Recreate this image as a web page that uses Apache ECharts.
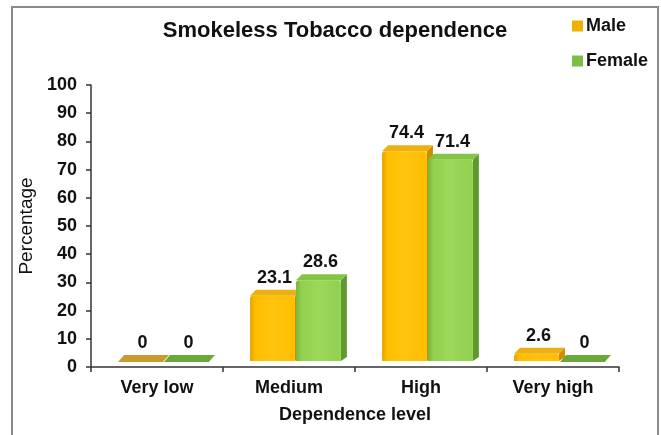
<!DOCTYPE html>
<html>
<head>
<meta charset="utf-8">
<script src="https://cdn.jsdelivr.net/npm/echarts@6/dist/echarts.min.js"></script>
<style>html,body{margin:0;padding:0;background:#fff;}#c{width:661px;height:435px;}</style>
</head>
<body>
<div id="c"></div>
<script>
const categories = ['Very low', 'Medium', 'High', 'Very high'];
const maleValues = [0, 23.1, 74.4, 2.6];
const femaleValues = [0, 28.6, 71.4, 0];
const yTicks = [0, 10, 20, 30, 40, 50, 60, 70, 80, 90, 100];

const FONT = '"Liberation Sans", Arial, sans-serif';

const palettes = {
  male: { light: '#FFC40F', mid: '#FFBE00', dark: '#E3A300', side: '#C98F00', top: '#EDB010', flat: '#C99A2E' },
  female: { light: '#9CD85A', mid: '#92D050', dark: '#78B53C', side: '#5E9A2E', top: '#86C446', flat: '#6AA838' }
};

function makeRender(isFemale, pal) {
  return function (params, api) {
    const ci = api.value(0);
    const v = api.value(1);
    const base = api.coord([ci, 0]);
    const topPt = api.coord([ci, v]);
    const band = api.size([1, 0])[0];
    const cx = base[0];
    const w = band * 0.34;
    const x = isFemale ? cx + band * 0.053 : cx - band * 0.295;
    const d = 6, lift = 6;
    const yb = base[1] - lift;
    const yt = topPt[1] - lift;
    const children = [];
    if (v > 0) {
      children.push({
        type: 'polygon',
        shape: { points: [[x + w, yt], [x + w + d, yt - d], [x + w + d, yb - d + 2], [x + w, yb]] },
        style: { fill: pal.side }
      });
      children.push({
        type: 'rect',
        shape: { x: x, y: yt, width: w, height: yb - yt, r: [3, 3, 0, 0] },
        style: {
          fill: new echarts.graphic.LinearGradient(0, 0, 1, 0, [
            { offset: 0, color: pal.dark },
            { offset: 0.12, color: pal.mid },
            { offset: 0.5, color: pal.light },
            { offset: 1, color: pal.mid }
          ])
        }
      });
      children.push({
        type: 'polygon',
        shape: { points: [[x, yt], [x + d, yt - d], [x + w + d, yt - d], [x + w, yt]] },
        style: { fill: pal.top }
      });
    } else {
      children.push({
        type: 'polygon',
        shape: { points: [[x, yb + 1], [x + d, yb - d], [x + w + d, yb - d], [x + w, yb + 1]] },
        style: { fill: pal.flat }
      });
    }
    children.push({
      type: 'text',
      style: {
        text: String(v),
        x: x + w / 2 + 2,
        y: yt - d - 3,
        align: 'center',
        verticalAlign: 'bottom',
        font: 'bold 18px ' + FONT,
        fill: '#111'
      }
    });
    return { type: 'group', children: children };
  };
}

const chart = echarts.init(document.getElementById('c'));
chart.setOption({
  backgroundColor: '#fff',
  animation: false,
  graphic: [{
    type: 'rect',
    shape: { x: 12, y: 7, width: 646, height: 440 },
    style: { fill: 'none', stroke: '#8a8a8a', lineWidth: 2 },
    silent: true
  }],
  title: {
    text: 'Smokeless Tobacco dependence',
    left: 330, top: 15, textAlign: 'center',
    textStyle: { fontFamily: FONT, fontSize: 22, fontWeight: 'bold', color: '#111' }
  },
  legend: {
    orient: 'vertical',
    left: 567, top: 12,
    itemWidth: 11, itemHeight: 11, itemGap: 17,
    icon: 'rect',
    data: ['Male', 'Female'],
    textStyle: { fontFamily: FONT, fontSize: 18, fontWeight: 'bold', color: '#111', padding: [0, 0, 0, -2] }
  },
  grid: { left: 91, right: 42, top: 85, bottom: 68, containLabel: false },
  xAxis: {
    type: 'category',
    data: categories,
    name: 'Dependence level',
    nameLocation: 'middle',
    nameGap: 39,
    nameTextStyle: { fontFamily: FONT, fontSize: 18, fontWeight: 'bold', color: '#111' },
    axisLine: { lineStyle: { color: '#333', width: 1.5 } },
    axisTick: { show: true, length: 5, lineStyle: { color: '#333', width: 1.5 } },
    axisLabel: { margin: 12, fontFamily: FONT, fontSize: 18, fontWeight: 'bold', color: '#111' },
    splitLine: { show: false }
  },
  yAxis: {
    type: 'value',
    min: yTicks[0], max: yTicks[yTicks.length - 1], interval: yTicks[1] - yTicks[0],
    name: 'Percentage',
    nameLocation: 'middle',
    nameGap: 50,
    nameTextStyle: { fontFamily: FONT, fontSize: 19, color: '#111' },
    axisLine: { show: true, lineStyle: { color: '#333', width: 1.5 } },
    axisTick: { show: true, length: 5, lineStyle: { color: '#333', width: 1.5 } },
    axisLabel: { margin: 14, fontFamily: FONT, fontSize: 18, fontWeight: 'bold', color: '#111' },
    splitLine: { show: false }
  },
  series: [
    {
      name: 'Male', type: 'custom',
      renderItem: makeRender(false, palettes.male),
      itemStyle: { color: '#F0B000' },
      encode: { x: 0, y: 1 },
      data: maleValues.map((v, i) => [i, v])
    },
    {
      name: 'Female', type: 'custom',
      renderItem: makeRender(true, palettes.female),
      itemStyle: { color: '#7CC043' },
      encode: { x: 0, y: 1 },
      data: femaleValues.map((v, i) => [i, v])
    }
  ]
});
</script>
</body>
</html>
